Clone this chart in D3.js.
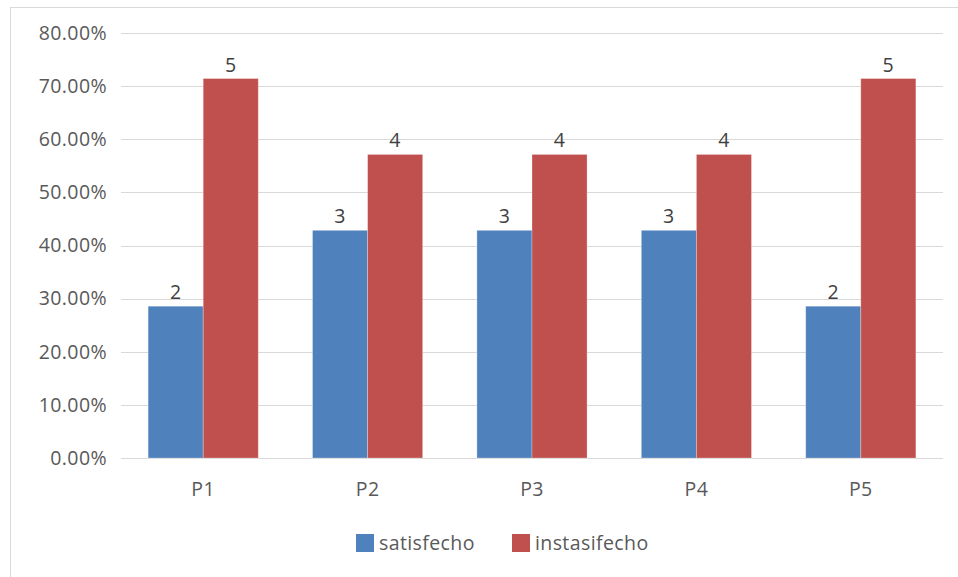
<!DOCTYPE html>
<html>
<head>
<meta charset="utf-8">
<script src="https://cdn.jsdelivr.net/npm/d3@7"></script>
<style>
  html, body { margin: 0; padding: 0; background: #fff; }
  svg { display: block; font-family: "Open Sans", "Noto Sans", sans-serif; }
  text { letter-spacing: 0.4px; }
</style>
</head>
<body>
<svg id="chart" width="958" height="577"></svg>
<script>
// Survey answers per question: counts out of 7 respondents
const categories = ["P1", "P2", "P3", "P4", "P5"];
const seriesNames = ["satisfecho", "instasifecho"];
const satisfecho = [2, 3, 3, 3, 2];
const instasifecho = [5, 4, 4, 4, 5];
const respondents = 7;
const yTicks = [0, 0.1, 0.2, 0.3, 0.4, 0.5, 0.6, 0.7, 0.8];
const colors = ["#4F81BD", "#C0504D"];

const svg = d3.select("#chart");
const fontSize = 19.5;

// Outer chart frame (extends past the right and bottom edge)
svg.append("rect")
  .attr("x", 10.5).attr("y", 7.5)
  .attr("width", 960).attr("height", 600)
  .attr("fill", "#fff").attr("stroke", "#d9d9d9").attr("stroke-width", 1);

const plot = { left: 121, right: 943, top: 33, bottom: 458 };

const x = d3.scaleBand().domain(categories)
  .range([plot.left, plot.right]).paddingInner(0.33).paddingOuter(0.165);
const xs = d3.scaleBand().domain(seriesNames).range([0, x.bandwidth()]);
const y = d3.scaleLinear().domain([0, 0.8]).range([plot.bottom, plot.top]);

// Gridlines
svg.append("g").selectAll("line").data(yTicks).join("line")
  .attr("x1", plot.left).attr("x2", plot.right)
  .attr("y1", d => Math.round(y(d)) + 0.5).attr("y2", d => Math.round(y(d)) + 0.5)
  .attr("stroke", "#d9d9d9").attr("stroke-width", 1.2);

// Y axis tick labels
const yAxis = d3.axisLeft(y).tickValues(yTicks)
  .tickFormat(d => (d * 100).toFixed(2) + "%").tickSize(0).tickPadding(14);
const ya = svg.append("g").attr("transform", `translate(${plot.left},0)`).call(yAxis);
ya.select(".domain").remove();
ya.selectAll("text").attr("fill", "#595959").attr("font-size", fontSize)
  .attr("font-family", "\"Open Sans\", sans-serif");

// X axis labels
const xAxis = d3.axisBottom(x).tickSize(0).tickPadding(24);
const xa = svg.append("g").attr("transform", `translate(0,${plot.bottom})`).call(xAxis);
xa.select(".domain").remove();
xa.selectAll("text").attr("fill", "#595959").attr("font-size", fontSize)
  .attr("font-family", "\"Open Sans\", sans-serif");

// Bars
const rows = categories.map((c, i) => ({
  cat: c,
  vals: [
    { s: seriesNames[0], n: satisfecho[i], c: colors[0] },
    { s: seriesNames[1], n: instasifecho[i], c: colors[1] }
  ]
}));

const groups = svg.append("g").selectAll("g").data(rows).join("g")
  .attr("transform", d => `translate(${x(d.cat)},0)`);

groups.selectAll("rect").data(d => d.vals).join("rect")
  .attr("x", d => xs(d.s))
  .attr("y", d => y(d.n / respondents))
  .attr("width", xs.bandwidth())
  .attr("height", d => plot.bottom - y(d.n / respondents))
  .attr("fill", d => d.c)
  .attr("stroke", "rgba(255,255,255,0.35)").attr("stroke-width", 0.8);

// Value labels (counts)
groups.selectAll("text").data(d => d.vals).join("text")
  .attr("x", d => xs(d.s) + xs.bandwidth() / 2)
  .attr("y", d => y(d.n / respondents) - 7)
  .attr("text-anchor", "middle")
  .attr("fill", "#404040").attr("font-size", fontSize)
  .text(d => d.n);

// Legend
const legend = svg.append("g");
const legendItems = [
  { name: seriesNames[0], color: colors[0], x: 356 },
  { name: seriesNames[1], color: colors[1], x: 512 }
];
const li = legend.selectAll("g").data(legendItems).join("g")
  .attr("transform", d => `translate(${d.x},534)`);
li.append("rect").attr("width", 18).attr("height", 18)
  .attr("fill", d => d.color);
li.append("text").attr("x", 23).attr("y", 16)
  .attr("fill", "#595959").attr("font-size", fontSize)
  .text(d => d.name);
</script>
</body>
</html>
